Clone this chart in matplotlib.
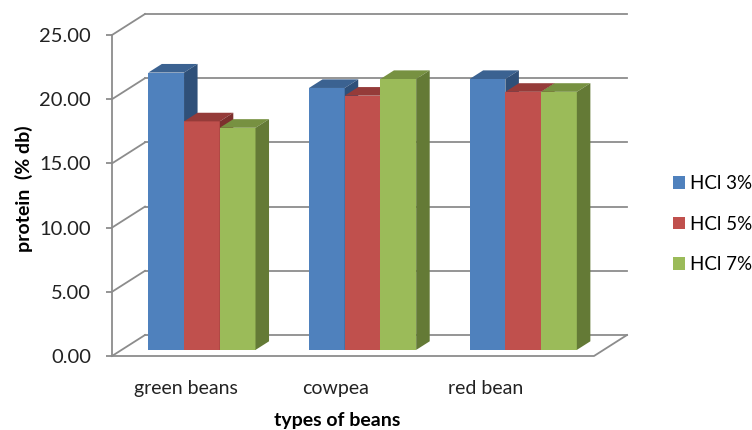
import numpy as np
import matplotlib
matplotlib.use("Agg")
from matplotlib import pyplot as plt
from matplotlib.patches import Polygon

categories = ["green beans", "cowpea", "red bean"]
series = ["HCl 3%", "HCl 5%", "HCl 7%"]
hcl3 = [21.6, 20.4, 21.1]
hcl5 = [17.8, 19.8, 20.1]
hcl7 = [17.3, 21.1, 20.1]

front_colors = ["#4f81bd", "#c0504d", "#9bbb59"]
top_colors = ["#3b6291", "#953b39", "#779141"]
side_colors = ["#2f5079", "#7d302e", "#647a36"]
grid_col = "#8c8c8c"

plt.rcParams['font.family'] = ['Lato', 'DejaVu Sans']

fig = plt.figure(figsize=(7.52, 4.30), dpi=100)
# axes = front plane of the 3d box
ax = fig.add_axes([112 / 752, 74 / 430, 482 / 752, 321 / 430])
ax.set_xlim(-0.5, 2.5)
ax.set_ylim(0, 25)

# depth offset of the box (data units)
dx = 33 / 160.67
dy = 21 / 12.84
x0, x1 = -0.5, 2.5
ymax = 25

# walls and gridlines
for v in np.arange(0, 26, 5):
    ax.plot([x0, x0 + dx], [v, v + dy], color=grid_col, lw=1.3, clip_on=False, zorder=1)
    ax.plot([x0 + dx, x1 + dx], [v + dy, v + dy], color=grid_col, lw=1.3, clip_on=False, zorder=1)
# floor
ax.plot([x0, x1, x1 + dx], [0, 0, dy], color=grid_col, lw=1.3, clip_on=False, zorder=1)
ax.plot([x0, x0], [0, ymax], color=grid_col, lw=1.3, clip_on=False, zorder=1)

# bars
bw = 0.2224
d_front, d_back = 0.29, 0.70
bdx = (d_back - d_front) * dx
bdy = (d_back - d_front) * dy
data = [hcl3, hcl5, hcl7]
x = np.arange(len(categories))
handles = []
for j, vals in enumerate(data):
    xs = x + (j - 1) * bw + d_front * dx
    base = d_front * dy
    z = 3 + j
    bars = ax.bar(xs, vals, width=bw, bottom=base, color=front_colors[j],
                  edgecolor="none", zorder=z, label=series[j])
    handles.append(bars)
    for xc, v in zip(xs, vals):
        l, r = xc - bw / 2, xc + bw / 2
        top = base + v
        ax.add_patch(Polygon([(l, top), (r, top), (r + bdx, top + bdy), (l + bdx, top + bdy)],
                             closed=True, facecolor=top_colors[j], edgecolor="none",
                             zorder=z, clip_on=False))
        ax.add_patch(Polygon([(r, base), (r, top), (r + bdx, top + bdy), (r + bdx, base + bdy)],
                             closed=True, facecolor=side_colors[j], edgecolor="none",
                             zorder=z, clip_on=False))

for s in ax.spines.values():
    s.set_visible(False)

ax.set_yticks(np.arange(0, 26, 5))
ax.set_yticklabels(["%.2f" % v for v in np.arange(0, 26, 5)], fontsize=14.5, color="#222222")
ax.tick_params(axis="y", length=4, width=1.3, color=grid_col, pad=11)

label_pos = x * 0.932 - 0.04
ax.set_xticks(label_pos)
ax.set_xticklabels(categories, fontsize=14, color="#222222")
ax.tick_params(axis="x", length=0, pad=17)

ax.set_ylabel("protein  (% db)", fontsize=14, fontweight="bold")
ax.yaxis.set_label_coords(-0.164, 0.52)
ax.set_xlabel("types of beans", fontsize=14, fontweight="bold")
ax.xaxis.set_label_coords(0.467, -0.175)

fig.legend(handles=handles, labels=series, loc="center left",
           bbox_to_anchor=(0.872, 0.479), frameon=False, fontsize=13.5,
           handlelength=0.65, handleheight=0.65, handletextpad=0.3, labelspacing=1.25)

plt.savefig("out.png", dpi=100)
